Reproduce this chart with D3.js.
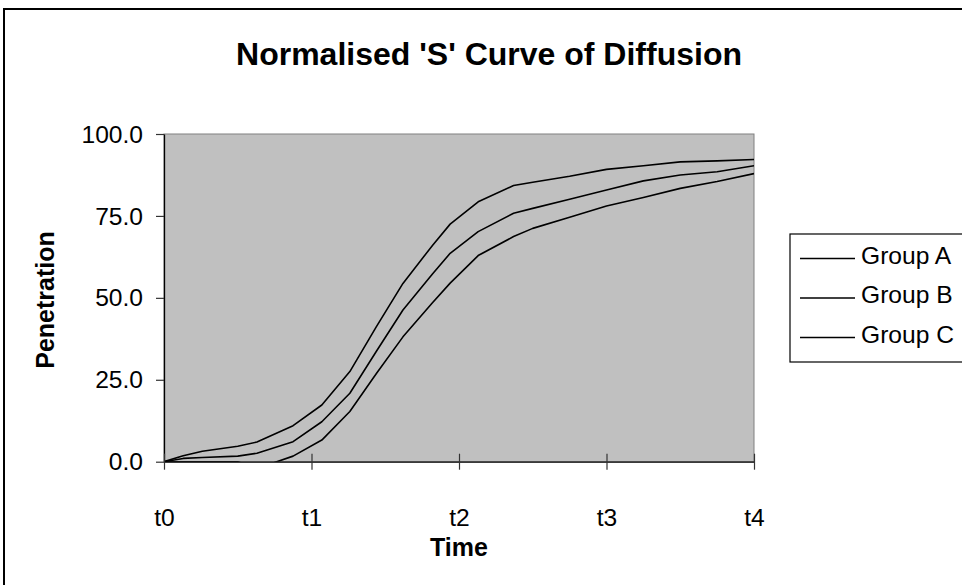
<!DOCTYPE html>
<html>
<head>
<meta charset="utf-8">
<script src="https://cdn.jsdelivr.net/npm/d3@7"></script>
<style>
  html, body { margin: 0; padding: 0; background: #fff; overflow: hidden; }
  svg { display: block; }
  text { font-family: "Liberation Sans", Arial, sans-serif; fill: #000; }
</style>
</head>
<body>
<svg id="chart" width="962" height="585"></svg>
<script>
// ---- data ----
const timePoints = [0, 0.13, 0.26, 0.5, 0.63, 0.875, 1.07, 1.26, 1.44, 1.62, 1.82, 1.94, 2.13, 2.37, 2.5, 2.75, 3.0, 3.25, 3.5, 3.75, 4.0];
const groupA = [0, 1.8, 3.2, 4.7, 6.0, 11.0, 17.3, 27.5, 41.2, 54.4, 66.0, 72.5, 79.3, 84.3, 85.3, 87.1, 89.2, 90.3, 91.5, 91.8, 92.2];
const groupB = [0, 1.0, 1.3, 1.7, 2.6, 6.1, 12.2, 20.9, 33.7, 46.3, 57.3, 63.6, 70.2, 75.8, 77.3, 80.1, 82.9, 85.7, 87.5, 88.5, 90.3];
const groupC = [0, 0, 0, 0, -2.1, 1.7, 6.6, 15.3, 26.9, 38.1, 48.5, 54.5, 62.9, 68.7, 71.2, 74.6, 78.0, 80.6, 83.4, 85.5, 87.9];
const seriesNames = ["Group A", "Group B", "Group C"];
const xTickValues = [0, 1, 2, 3, 4];
const xTickLabels = ["t0", "t1", "t2", "t3", "t4"];
const yTickValues = [0, 25, 50, 75, 100];
const chartTitle = "Normalised 'S' Curve of Diffusion";
const xTitle = "Time";
const yTitle = "Penetration";

const series = [groupA, groupB, groupC].map((vals, i) => ({
  name: seriesNames[i],
  points: vals.map((v, j) => ({ t: timePoints[j], v }))
}));

// ---- layout ----
const svg = d3.select("#chart");
const plot = { left: 164, top: 134, right: 754, bottom: 461.7 };

// outer frame
svg.append("rect")
  .attr("x", 4).attr("y", 9).attr("width", 1000).attr("height", 1000)
  .attr("fill", "none").attr("stroke", "#000").attr("stroke-width", 2);

const x = d3.scaleLinear().domain([0, 4]).range([plot.left, plot.right]);
const y = d3.scaleLinear().domain([0, 100]).range([plot.bottom, plot.top]);

// plot background
svg.append("rect")
  .attr("x", plot.left).attr("y", plot.top)
  .attr("width", plot.right - plot.left).attr("height", plot.bottom - plot.top)
  .attr("fill", "#c0c0c0").attr("stroke", "#808080").attr("stroke-width", 1);

// clip
svg.append("clipPath").attr("id", "clip")
  .append("rect")
  .attr("x", plot.left).attr("y", plot.top)
  .attr("width", plot.right - plot.left).attr("height", plot.bottom - plot.top);

// lines
const line = d3.line().x(d => x(d.t)).y(d => y(d.v));
svg.append("g").attr("clip-path", "url(#clip)")
  .selectAll("path").data(series).join("path")
  .attr("d", d => line(d.points))
  .attr("fill", "none").attr("stroke", "#000").attr("stroke-width", 1.6)
  .attr("stroke-linejoin", "round");

// y axis
const yAxis = d3.axisLeft(y).tickValues(yTickValues).tickFormat(d3.format(".1f"))
  .tickSizeInner(8).tickSizeOuter(0).tickPadding(12);
const gy = svg.append("g").attr("transform", `translate(${plot.left},0)`).call(yAxis);
gy.select(".domain").attr("stroke", "#000").attr("stroke-width", 1.3);
gy.selectAll(".tick line").attr("stroke", "#333").attr("stroke-width", 1.2);
gy.selectAll(".tick text").style("font-size", "24.6px").attr("fill", "#000")
  .attr("dy", "0.33em").attr("x", -21);

// x axis
const xAxis = d3.axisBottom(x).tickValues(xTickValues).tickFormat((d, i) => xTickLabels[i])
  .tickSizeInner(8).tickSizeOuter(0).tickPadding(0);
const gx = svg.append("g").attr("transform", `translate(0,${plot.bottom})`).call(xAxis);
gx.select(".domain").attr("stroke", "#000").attr("stroke-width", 1.3);
gx.selectAll(".tick line").attr("y1", -8).attr("y2", 8).attr("stroke", "#333").attr("stroke-width", 1.2);
gx.selectAll(".tick text").style("font-size", "24.6px").attr("fill", "#000")
  .attr("dy", 0).attr("y", 64);

// title
svg.append("text").attr("x", 489).attr("y", 65).attr("text-anchor", "middle")
  .style("font-size", "32px").style("font-weight", "bold").text(chartTitle);

// axis titles
svg.append("text").attr("x", 459).attr("y", 556).attr("text-anchor", "middle")
  .style("font-size", "25px").style("font-weight", "bold").text(xTitle);
svg.append("text").attr("transform", "translate(54,300) rotate(-90)").attr("text-anchor", "middle")
  .style("font-size", "25px").style("font-weight", "bold").text(yTitle);

// legend
const lg = svg.append("g");
lg.append("rect").attr("x", 790).attr("y", 234).attr("width", 300).attr("height", 128)
  .attr("fill", "#fff").attr("stroke", "#000").attr("stroke-width", 1.2);
const items = lg.selectAll("g.item").data(series).join("g")
  .attr("transform", (d, i) => `translate(0,${258.5 + i * 39.5})`);
items.append("line").attr("x1", 800).attr("x2", 855).attr("y1", 0).attr("y2", 0)
  .attr("stroke", "#000").attr("stroke-width", 1.6);
items.append("text").attr("x", 861).attr("y", 0).attr("dy", "0.22em")
  .style("font-size", "24.6px").text(d => d.name);
</script>
</body>
</html>
